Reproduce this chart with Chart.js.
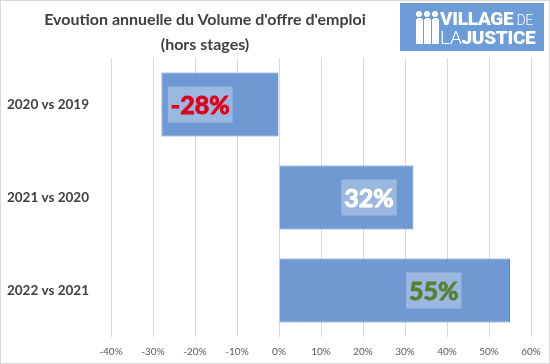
<!DOCTYPE html>
<html>
<head>
<meta charset="utf-8">
<script src="https://cdn.jsdelivr.net/npm/chart.js@4"></script>
<style>
body { margin: 0; background: #fff; }
#wrap { position: relative; width: 550px; height: 364px; overflow: hidden; }
#frame { position: absolute; left: 0; top: 0; width: 550px; height: 364px; box-sizing: border-box; border: 1px solid #d9d9d9; pointer-events: none; }
canvas { position: absolute; left: 0; top: 0; }
#title { position: absolute; left: 0; top: 6px; width: 410px; text-align: center; font: bold 16px Lato, sans-serif; color: #404040; line-height: 25px; }
#logo { position: absolute; left: 400px; top: 3px; width: 144px; height: 48px; background: #6c9dd9; color: #fff; font-family: Roboto, sans-serif; }
#logo .l1, #logo .l2 { position: absolute; left: 40px; font-size: 19px; line-height: 19px; letter-spacing: -0.3px; }
#logo .l1 { top: 6px; }
#logo .l2 { top: 25px; }
#logo b { font-weight: 900; }
#logo span { font-weight: 300; }
.fig { position: absolute; background: #fff; }
.head { width: 6px; height: 6px; border-radius: 50%; }
.body { width: 7px; height: 26px; border-radius: 3px 3px 1px 1px; }
</style>
</head>
<body>
<div id="wrap">
  <canvas id="chart" width="550" height="364"></canvas>
  <div id="title">Evoution annuelle du Volume d'offre d'emploi<br>(hors stages)</div>
  <div id="logo">
    <div class="fig head" style="left:16px;top:8px"></div>
    <div class="fig body" style="left:15.5px;top:15px"></div>
    <div class="fig head" style="left:24px;top:8px"></div>
    <div class="fig body" style="left:23.5px;top:15px"></div>
    <div class="fig head" style="left:32px;top:8px"></div>
    <div class="fig body" style="left:31.5px;top:15px"></div>
    <div class="l1"><b>VILLAGE</b><span style="font-size:14px"> DE</span></div>
    <div class="l2"><span>LA</span><b>JUSTICE</b></div>
  </div>
  <div id="frame"></div>
</div>
<script>
// Chart data
const categories = ['2020 vs 2019', '2021 vs 2020', '2022 vs 2021'];
const changes = [-28, 32, 55];
const axisMin = -40;
const axisMax = 60;
const axisStep = 10;

// label text colours, one per bar
const labelColors = ['#e0001a', '#ffffff', '#548235'];

// draws the value boxes inside each bar
const valueLabels = {
    id: 'valueLabels',
    afterDatasetsDraw(chart) {
        const ctx = chart.ctx;
        const xScale = chart.scales.x;
        const meta = chart.getDatasetMeta(0);
        ctx.save();
        ctx.font = 'bold 25px Lato, sans-serif';
        ctx.textAlign = 'center';
        ctx.textBaseline = 'middle';
        ctx.lineWidth = 1;
        meta.data.forEach((bar, i) => {
            const v = chart.data.datasets[0].data[i];
            const text = v + '%';
            const cx = xScale.getPixelForValue(v * 0.67);
            const cy = bar.y;
            const w = ctx.measureText(text).width + 6;
            const h = 36;
            ctx.fillStyle = 'rgba(255,255,255,0.3)';
            ctx.fillRect(cx - w / 2, cy - h / 2, w, h);
            ctx.fillStyle = labelColors[i];
            ctx.strokeStyle = labelColors[i];
            ctx.fillText(text, cx, cy + 1);
            ctx.strokeText(text, cx, cy + 1); // thicken the glyphs a little
        });
        ctx.restore();
    }
};

const ctx = document.getElementById('chart').getContext('2d');

new Chart(ctx, {
    type: 'bar',
    data: {
        labels: categories,
        datasets: [{
            data: changes,
            backgroundColor: '#6f99d3',
            borderColor: '#5b86c4',
            borderWidth: 1,
            barPercentage: 0.69,
            categoryPercentage: 1
        }]
    },
    options: {
        indexAxis: 'y',
        responsive: false,
        animation: false,
        layout: { padding: { top: 58, right: 19, bottom: 0, left: 0 } },
        plugins: {
            legend: { display: false },
            tooltip: { enabled: false }
        },
        scales: {
            x: {
                min: axisMin,
                max: axisMax,
                ticks: {
                    stepSize: axisStep,
                    color: '#595959',
                    font: { family: 'Lato, sans-serif', size: 10 },
                    padding: 9,
                    callback: v => v + '%'
                },
                grid: { color: '#d9d9d9', drawTicks: false },
                border: { display: false },
                afterFit: s => { s.height = 27; }
            },
            y: {
                ticks: {
                    color: '#404040',
                    font: { family: 'Lato, sans-serif', size: 13.5, weight: 'bold' },
                    padding: 14
                },
                grid: { display: false },
                border: { display: false },
                afterFit: s => { s.width = 111; }
            }
        }
    },
    plugins: [valueLabels]
});
</script>
</body>
</html>
